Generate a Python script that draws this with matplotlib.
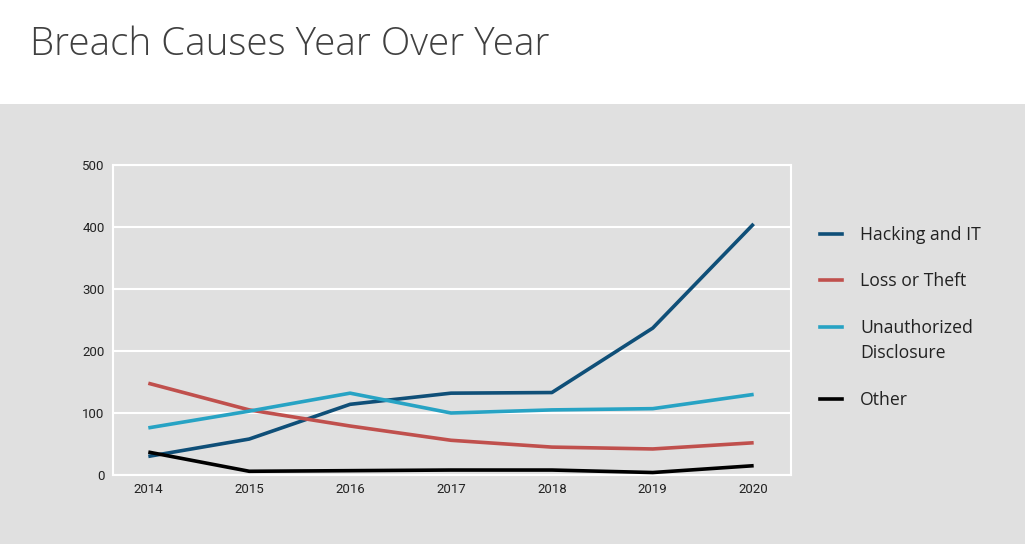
import matplotlib.pyplot as plt
from matplotlib.lines import Line2D
from matplotlib.patches import Rectangle

# data
years = [2014, 2015, 2016, 2017, 2018, 2019, 2020]
hacking = [30, 58, 114, 132, 133, 237, 405]
loss = [148, 105, 79, 56, 45, 42, 52]
unauthorized = [76, 103, 132, 100, 105, 107, 130]
other = [37, 6, 7, 8, 8, 4, 15]

series_names = ['Hacking and IT', 'Loss or Theft', 'Unauthorized\nDisclosure', 'Other']
series_colors = ['#0f4f78', '#c0504d', '#27a3c4', '#000000']
series_values = [hacking, loss, unauthorized, other]

bg = '#e0e0e0'

fig = plt.figure(figsize=(10.25, 5.44), dpi=100)
fig.patch.set_facecolor(bg)

# white header band
fig.add_artist(Rectangle((0, 1 - 104 / 544), 1, 104 / 544, transform=fig.transFigure,
                         facecolor='white', edgecolor='none', zorder=0))
fig.text(30 / 1025, 1 - 45 / 544, 'Breach Causes Year Over Year', fontsize=27.8,
         family='Open Sans', fontweight='light', color='#404040', va='center', ha='left')

ax = fig.add_axes([113 / 1025, 1 - 475 / 544, 678 / 1025, 310 / 544])
ax.set_facecolor(bg)

for vals, col in zip(series_values, series_colors):
    ax.plot(years, vals, color=col, linewidth=2.6, solid_capstyle='butt', zorder=3)

ax.set_xlim(2013.65, 2020.37)
ax.set_ylim(0, 500)
ax.set_yticks([0, 100, 200, 300, 400, 500])
ax.set_xticks(years)
ax.grid(axis='y', color='white', linewidth=1.5, zorder=1)
for s in ax.spines.values():
    s.set_color('white')
    s.set_linewidth(1.5)
ax.tick_params(length=0, labelsize=9.5, labelcolor='#222222', pad=6)
for lab in ax.get_xticklabels() + ax.get_yticklabels():
    lab.set_family('Roboto')

# legend drawn by hand so the marker sits on the first text line
legend_y = [234, 280, 327, 399]
for name, col, yy in zip(series_names, series_colors, legend_y):
    fy = 1 - yy / 544
    fig.add_artist(Line2D([820 / 1025, 842 / 1025], [fy, fy], transform=fig.transFigure,
                          color=col, linewidth=2.6))
    for i, ln in enumerate(name.split('\n')):
        fig.text(860 / 1025, 1 - (yy + 1 + i * 25) / 544, ln, fontsize=12.7,
                 family='Open Sans', color='#222222', va='center', ha='left')

fig.savefig('out.png', dpi=100, facecolor=fig.get_facecolor())
